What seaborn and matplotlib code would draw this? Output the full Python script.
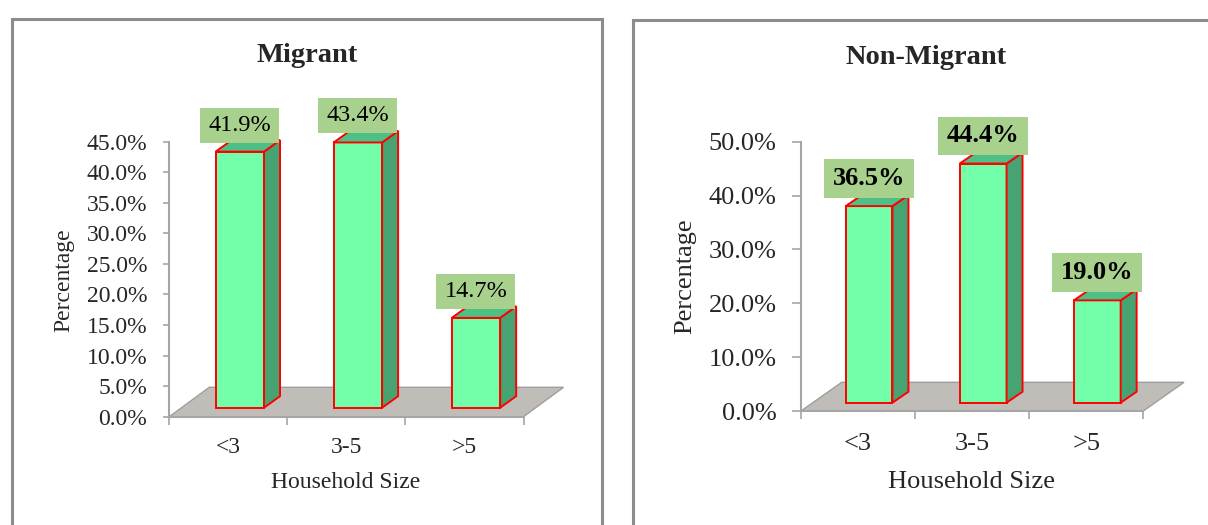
import matplotlib
matplotlib.use("Agg")
import matplotlib.pyplot as plt
import seaborn as sns
from matplotlib.patches import Polygon, Rectangle

# ---------------- data ----------------
categories = ["<3", "3-5", ">5"]
migrant_pct = [41.9, 43.4, 14.7]
non_migrant_pct = [36.5, 44.4, 19.0]
migrant_yticks = [0, 5, 10, 15, 20, 25, 30, 35, 40, 45]
non_migrant_yticks = [0, 10, 20, 30, 40, 50]
panel_titles = ["Migrant", "Non-Migrant"]
x_label = "Household Size"
y_label = "Percentage"

# ---------------- style ----------------
W, H = 1208, 525
sns.set_style("white")
plt.rcParams["font.family"] = ["Liberation Serif", "DejaVu Serif"]

FACE = "#73FFAA"
SIDE = "#47A472"
TOP = "#4EC086"
EDGE = "#FF0000"
BOX = "#A9D18E"
FLOOR = "#C0BDB8"
FLOOR_EDGE = "#9E9E9E"
AXIS = "#A6A6A6"
FRAME = "#8C8C8C"
EDGE_LW = 1.4

fig = plt.figure(figsize=(W / 100, H / 100), dpi=100)
fig.patch.set_facecolor("white")

# panel frames (pixel geometry)
fig.add_artist(Rectangle((11.5 / W, -0.2), (601.5 - 11.5) / W, 1.2 - 18.5 / H,
                         transform=fig.transFigure, fill=False,
                         edgecolor=FRAME, lw=2.2))
fig.add_artist(Rectangle((632.5 / W, -0.2), 0.9, 1.2 - 19.5 / H,
                         transform=fig.transFigure, fill=False,
                         edgecolor=FRAME, lw=2.2))

panels = [
    dict(values=migrant_pct, yticks=migrant_yticks, title=panel_titles[0],
         box=(169.3, 141.7, 523.5, 416.7), floor=(40, 29.4),
         bar_off=(11.5, 9.0), bar_depth=(16, 11.5),
         lab_box=(79, 35), lab_gap=26.5, lab_weight="normal", lab_fs=17.5,
         tick_fs=17, label_fs=17, title_fs=20.5,
         title_c=(307, 55), ylab_c=(64, 280), xlab_c=(346, 482),
         ytick_len=6, ytick_gap=22, xtick_center=31.0),
    dict(values=non_migrant_pct, yticks=non_migrant_yticks, title=panel_titles[1],
         box=(801, 141.7, 1143.3, 411), floor=(40.7, 28.7),
         bar_off=(11.0, 8.3), bar_depth=(16, 11),
         lab_box=(90, 38.4), lab_gap=27.8, lab_weight="bold", lab_fs=19,
         tick_fs=19, label_fs=19, title_fs=20.5,
         title_c=(926, 57), ylab_c=(685, 276), xlab_c=(971.7, 482.5),
         ytick_len=9, ytick_gap=24.3, xtick_center=33.5),
]

PT = 0.72  # points per pixel at 100 dpi

for P in panels:
    x0p, ytp, x1p, ybp = P["box"]
    ax = fig.add_axes([x0p / W, 1 - ybp / H, (x1p - x0p) / W, (ybp - ytp) / H])
    ax.set_facecolor("none")
    ymax = P["yticks"][-1]

    sns.barplot(x=categories, y=P["values"], order=categories, ax=ax,
                color=FACE, saturation=1, edgecolor=EDGE, linewidth=EDGE_LW,
                width=0.41)
    bars = list(ax.patches)
    ax.set_xlim(-0.5, len(categories) - 0.5)
    ax.set_ylim(0, ymax)

    ppx = (x1p - x0p) / len(categories)
    ppy = (ybp - ytp) / ymax

    # floor
    fdx, fdy = P["floor"][0] / ppx, P["floor"][1] / ppy
    xa, xb = -0.5, len(categories) - 0.5
    ax.add_patch(Polygon([(xa, 0), (xb, 0), (xb + fdx, fdy), (xa + fdx, fdy)],
                         closed=True, facecolor=FLOOR, edgecolor=FLOOR_EDGE,
                         lw=1.0, clip_on=False, zorder=1))

    bdx, bdy = P["bar_off"][0] / ppx, P["bar_off"][1] / ppy
    sdx, sdy = P["bar_depth"][0] / ppx, P["bar_depth"][1] / ppy
    bw, bh = P["lab_box"][0] / ppx, P["lab_box"][1] / ppy
    for p, v in zip(bars, P["values"]):
        x = p.get_x() + bdx
        w = p.get_width()
        h = p.get_height()
        p.set_x(x)
        p.set_y(bdy)
        p.set_zorder(3)
        p.set_clip_on(False)
        xl, xr, yb, yt = x, x + w, bdy, bdy + h
        ax.add_patch(Polygon([(xr, yb), (xr + sdx, yb + sdy), (xr + sdx, yt + sdy), (xr, yt)],
                             closed=True, facecolor=SIDE, edgecolor=EDGE, lw=EDGE_LW,
                             clip_on=False, zorder=3))
        ax.add_patch(Polygon([(xl, yt), (xr, yt), (xr + sdx, yt + sdy), (xl + sdx, yt + sdy)],
                             closed=True, facecolor=TOP, edgecolor=EDGE, lw=EDGE_LW,
                             clip_on=False, zorder=3))
        cx = xl + w / 2
        cy = yt + P["lab_gap"] / ppy
        ax.add_patch(Rectangle((cx - bw / 2, cy - bh / 2), bw, bh, facecolor=BOX,
                               edgecolor="none", clip_on=False, zorder=4))
        ax.text(cx, cy, f"{v:.1f}%", ha="center", va="center",
                fontsize=P["lab_fs"], fontweight=P["lab_weight"], color="black",
                zorder=5, clip_on=False)

    # axes styling
    for s in ["top", "right"]:
        ax.spines[s].set_visible(False)
    for s in ["left", "bottom"]:
        ax.spines[s].set_color(AXIS)
        ax.spines[s].set_linewidth(1.5)
        ax.spines[s].set_zorder(2)

    ax.set_yticks(P["yticks"])
    ax.set_yticklabels([f"{t:.1f}%" for t in P["yticks"]])
    ax.tick_params(axis="y", left=True, direction="out", length=P["ytick_len"] * PT,
                   width=1.2, color=AXIS, labelsize=P["tick_fs"],
                   pad=(P["ytick_gap"] - P["ytick_len"]) * PT)
    ax.set_xticks(range(len(categories)))
    ax.set_xticklabels(categories)
    ax.set_xticks([i - 0.5 for i in range(len(categories) + 1)], minor=True)
    ax.tick_params(axis="x", which="major", bottom=True, length=0,
                   labelsize=P["tick_fs"], pad=P["xtick_center"] * PT)
    for lab in ax.get_xticklabels():
        lab.set_va("center")
    ax.tick_params(axis="x", which="minor", bottom=True, direction="out",
                   length=8 * PT, width=1.2, color=AXIS)

    ax.set_ylabel(y_label, fontsize=P["label_fs"])
    ax.yaxis.label.set_va("center")
    ax.yaxis.label.set_ha("center")
    ax.yaxis.set_label_coords((P["ylab_c"][0] - x0p) / (x1p - x0p),
                              (ybp - P["ylab_c"][1]) / (ybp - ytp))
    ax.set_xlabel(x_label, fontsize=P["label_fs"])
    ax.xaxis.label.set_va("center")
    ax.xaxis.set_label_coords((P["xlab_c"][0] - x0p) / (x1p - x0p),
                              (ybp - P["xlab_c"][1]) / (ybp - ytp))
    ax.text((P["title_c"][0] - x0p) / (x1p - x0p), (ybp - P["title_c"][1]) / (ybp - ytp),
            P["title"], transform=ax.transAxes, ha="center", va="center",
            fontsize=P["title_fs"], fontweight="bold")

fig.savefig("out.png", dpi=100, facecolor="white")
